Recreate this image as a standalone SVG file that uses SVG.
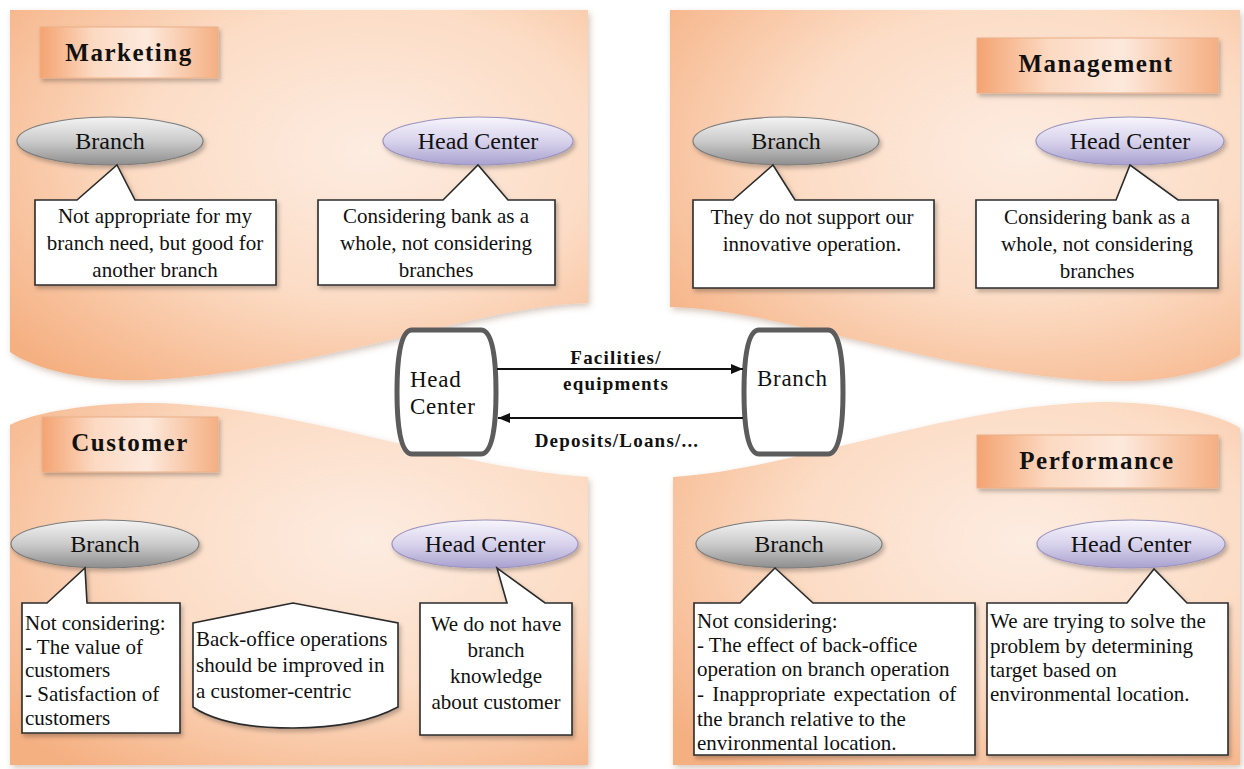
<svg xmlns="http://www.w3.org/2000/svg" width="1244" height="769" viewBox="0 0 1244 769">
<defs>
<style>
.t{font-family:"Liberation Serif","Times New Roman",serif;font-size:21px;fill:#111}
.c{text-anchor:middle}
.lbl{font-size:24px}
.title{font-weight:bold;font-size:25px;letter-spacing:1.5px}
.flow{font-weight:bold;font-size:19px;letter-spacing:1.2px}
.node{font-size:23px;letter-spacing:0.7px}
.panel{fill:url(#panelG);filter:url(#psh)}
.tbox{fill:url(#titleG);stroke:#eab08a;stroke-width:1;filter:url(#sh)}
.call{fill:#fff;stroke:#2b2b2b;stroke-width:1.6;filter:url(#sh)}
.eg{fill:url(#grayG);stroke:#7c7c7c;stroke-width:1.2;filter:url(#sh)}
.el{fill:url(#lavG);stroke:#9a93bd;stroke-width:1.2;filter:url(#sh)}
.cn{fill:#fff;stroke:#5c5c5c;stroke-width:5}
.ar{stroke:#111;stroke-width:2;fill:none;marker-end:url(#arr)}
</style>
<radialGradient id="panelG" cx="0.62" cy="0.38" r="0.8">
<stop offset="0" stop-color="#fdece1"/>
<stop offset="0.5" stop-color="#fcdcc5"/>
<stop offset="1" stop-color="#f5b082"/>
</radialGradient>
<linearGradient id="titleG" x1="0" y1="0" x2="1" y2="0">
<stop offset="0" stop-color="#f4a371"/>
<stop offset="0.3" stop-color="#fcd9c2"/>
<stop offset="0.6" stop-color="#fde9dc"/>
<stop offset="1" stop-color="#f5af82"/>
</linearGradient>
<linearGradient id="grayG" x1="0" y1="0" x2="0" y2="1">
<stop offset="0" stop-color="#f4f4f4"/>
<stop offset="0.5" stop-color="#cbcbcb"/>
<stop offset="1" stop-color="#8e8e8e"/>
</linearGradient>
<linearGradient id="lavG" x1="0" y1="0" x2="0" y2="1">
<stop offset="0" stop-color="#f7f5fc"/>
<stop offset="0.5" stop-color="#d8d3ec"/>
<stop offset="1" stop-color="#a9a1cf"/>
</linearGradient>
<filter id="sh" x="-10%" y="-10%" width="130%" height="140%">
<feDropShadow dx="2" dy="3" stdDeviation="2" flood-color="#000" flood-opacity="0.25"/>
</filter>
<filter id="psh" x="-5%" y="-5%" width="110%" height="115%">
<feDropShadow dx="2" dy="3" stdDeviation="3" flood-color="#7a4a2a" flood-opacity="0.3"/>
</filter>
<marker id="arr" viewBox="0 0 12 10" refX="12" refY="5" markerWidth="12" markerHeight="10" markerUnits="userSpaceOnUse" orient="auto">
<path d="M0,0 L12,5 L0,10 Z" fill="#111"/>
</marker>
</defs>
<rect width="1244" height="769" fill="#fff"/>

<!-- Marketing panel -->
<g id="marketing">
<path class="panel" d="M10,10 H588 V303 C480,305 330,370 150,380 C80,383 30,366 10,352 Z"/>
<rect class="tbox" x="40" y="27" width="178" height="51"/>
<text class="t title c" x="129" y="61">Marketing</text>
<g id="mk-branch">
<ellipse class="eg" cx="110" cy="141" rx="93" ry="24"/>
<text class="t lbl c" x="110" y="149">Branch</text>
</g>
<g id="mk-head">
<ellipse class="el" cx="478" cy="141" rx="95" ry="24"/>
<text class="t lbl c" x="478" y="149">Head Center</text>
</g>
<g id="mk-branch-note">
<path class="call" d="M35,200 H77 L117,165 L135,200 H276 V285 H35 Z"/>
<text class="t c" x="155" y="223">Not appropriate for my</text>
<text class="t c" x="155" y="250">branch need, but good for</text>
<text class="t c" x="155" y="277">another branch</text>
</g>
<g id="mk-head-note">
<path class="call" d="M318,200 H443 L478,165 L508,200 H555 V285 H318 Z"/>
<text class="t c" x="436" y="223">Considering bank as a</text>
<text class="t c" x="436" y="250">whole, not considering</text>
<text class="t c" x="436" y="277">branches</text>
</g>
</g>

<!-- Management panel -->
<g id="management">
<path class="panel" d="M670,10 H1240 V355 C1220,368 1170,384 1100,381 C930,372 780,309 670,307 Z"/>
<rect class="tbox" x="977" y="38" width="241" height="55"/>
<text class="t title c" x="1096" y="72">Management</text>
<g id="mg-branch">
<ellipse class="eg" cx="786" cy="141" rx="93" ry="24"/>
<text class="t lbl c" x="786" y="149">Branch</text>
</g>
<g id="mg-head">
<ellipse class="el" cx="1130" cy="141" rx="94" ry="24"/>
<text class="t lbl c" x="1130" y="149">Head Center</text>
</g>
<g id="mg-branch-note">
<path class="call" d="M693,200 H733 L773,165 L795,200 H934 V288 H693 Z"/>
<text class="t c" x="812" y="224">They do not support our</text>
<text class="t c" x="812" y="251">innovative operation.</text>
</g>
<g id="mg-head-note">
<path class="call" d="M976,200 H1116 L1130,165 L1178,200 H1218 V288 H976 Z"/>
<text class="t c" x="1097" y="224">Considering bank as a</text>
<text class="t c" x="1097" y="251">whole, not considering</text>
<text class="t c" x="1097" y="278">branches</text>
</g>
</g>

<!-- Customer panel -->
<g id="customer">
<path class="panel" d="M10,425 C35,412 90,403 150,403 C300,405 450,468 588,477 V765 H10 Z"/>
<rect class="tbox" x="42" y="417" width="176" height="55"/>
<text class="t title c" x="130" y="451">Customer</text>
<g id="cu-branch">
<ellipse class="eg" cx="105" cy="544" rx="94" ry="24"/>
<text class="t lbl c" x="105" y="552">Branch</text>
</g>
<g id="cu-head">
<ellipse class="el" cx="485" cy="544" rx="93" ry="24"/>
<text class="t lbl c" x="485" y="552">Head Center</text>
</g>
<g id="cu-branch-note">
<path class="call" d="M22,603 H47 L85,568 L87,603 H180 V733 H22 Z"/>
<text class="t" x="25" y="630">Not considering:</text>
<text class="t" x="25" y="654">- The value of</text>
<text class="t" x="25" y="677">customers</text>
<text class="t" x="25" y="701">- Satisfaction  of</text>
<text class="t" x="25" y="725">customers</text>
</g>
<g id="cu-middle-note">
<path class="call" d="M193,623 L293,603 L398,623 V707 C370,722 335,728 293,728 C250,728 215,722 193,707 Z"/>
<text class="t" x="196" y="646">Back-office operations</text>
<text class="t" x="196" y="672">should be improved in</text>
<text class="t" x="196" y="698">a customer-centric</text>
</g>
<g id="cu-head-note">
<path class="call" d="M420,603 H507 L497,568 L545,603 H572 V735 H420 Z"/>
<text class="t c" x="496" y="631">We do not have</text>
<text class="t c" x="496" y="657">branch</text>
<text class="t c" x="496" y="683">knowledge</text>
<text class="t c" x="496" y="709">about customer</text>
</g>
</g>

<!-- Performance panel -->
<g id="performance">
<path class="panel" d="M673,477 C800,468 950,405 1100,402 C1160,402 1215,412 1240,428 V765 H673 Z"/>
<rect class="tbox" x="977" y="435" width="241" height="53"/>
<text class="t title c" x="1097" y="469">Performance</text>
<g id="pf-branch">
<ellipse class="eg" cx="789" cy="544" rx="93" ry="24"/>
<text class="t lbl c" x="789" y="552">Branch</text>
</g>
<g id="pf-head">
<ellipse class="el" cx="1131" cy="544" rx="94" ry="24"/>
<text class="t lbl c" x="1131" y="552">Head Center</text>
</g>
<g id="pf-branch-note">
<path class="call" d="M694,603 H740 L775,568 L813,603 H975 V755 H694 Z"/>
<text class="t" x="697" y="628">Not considering:</text>
<text class="t" x="697" y="652">- The effect of back-office</text>
<text class="t" x="697" y="676">operation on branch operation</text>
<text class="t" x="697" y="701" word-spacing="3">- Inappropriate expectation of</text>
<text class="t" x="697" y="726">the branch relative to the</text>
<text class="t" x="697" y="750">environmental location.</text>
</g>
<g id="pf-head-note">
<path class="call" d="M987,603 H1127 L1154,569 L1187,603 H1228 V755 H987 Z"/>
<text class="t" x="990" y="628">We are trying to solve the</text>
<text class="t" x="990" y="653">problem by determining</text>
<text class="t" x="990" y="677">target based on</text>
<text class="t" x="990" y="701">environmental location.</text>
</g>
</g>

<!-- Central nodes -->
<g id="center-head">
<path class="cn" d="M412,330 H481 C493,330 496,360 496,392 C496,424 493,454 481,454 H412 C400,454 397,424 397,392 C397,360 400,330 412,330 Z"/>
<text class="t node" x="410" y="387">Head</text>
<text class="t node" x="410" y="414">Center</text>
</g>
<g id="center-branch">
<path class="cn" d="M759,330 H828 C840,330 843,360 843,392 C843,424 840,454 828,454 H759 C747,454 744,424 744,392 C744,360 747,330 759,330 Z"/>
<text class="t node" x="757" y="386">Branch</text>
</g>

<g id="connectors">
<line class="ar" x1="497" y1="369" x2="743" y2="369"/>
<line class="ar" x1="743" y1="418" x2="498" y2="418"/>
<text class="t flow c" x="616" y="364">Facilities/</text>
<text class="t flow c" x="616" y="390">equipments</text>
<text class="t flow c" x="617" y="447">Deposits/Loans/...</text>
</g>
</svg>
